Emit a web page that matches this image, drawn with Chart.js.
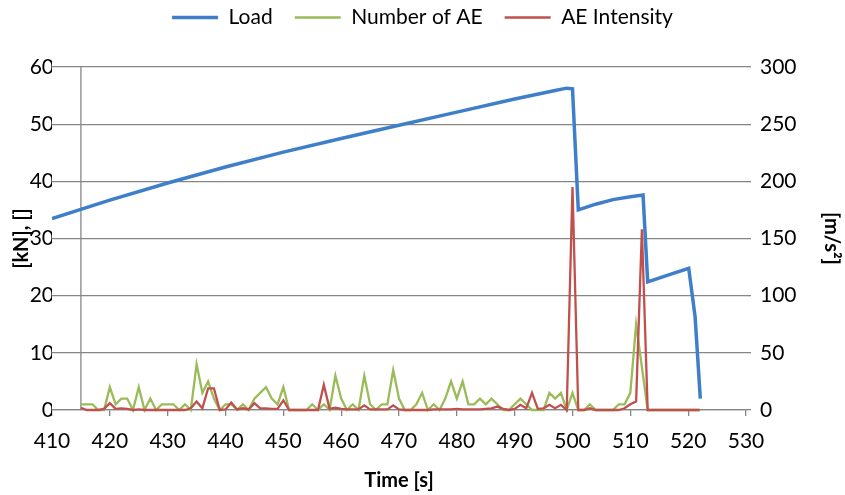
<!DOCTYPE html>
<html>
<head>
<meta charset="utf-8">
<script src="https://cdn.jsdelivr.net/npm/chart.js@4.4.0/dist/chart.umd.min.js"></script>
<style>
  html, body { margin: 0; padding: 0; background: #fff; }
  #wrap { width: 845px; height: 495px; }
</style>
</head>
<body>
<div id="wrap"><canvas id="chart"></canvas></div>
<script>
// Load [kN] against time [s]
const loadTime = [410, 420, 430, 440, 450, 460, 470, 480, 490, 497, 499, 500, 501, 504, 507, 510, 512.2, 513, 516.5, 520.1, 521.2, 522.1];
const loadValue = [33.5, 36.7, 39.7, 42.5, 45.1, 47.5, 49.8, 52.1, 54.4, 55.9, 56.3, 56.2, 35.0, 36.0, 36.8, 37.3, 37.6, 22.4, 23.6, 24.8, 16.3, 2.0];

// AE readings, one per second from 415 s
const aeStart = 415;
const aeNumber = [
  1, 1, 1, 0, 0, 4, 1, 2, 2, 0,   // 415-424
  4, 0, 2, 0, 1, 1, 1, 0, 1, 0,   // 425-434
  8, 3, 5, 2, 0, 1, 1, 0, 1, 0,   // 435-444
  2, 3, 4, 2, 1, 4, 0, 0, 0, 0,   // 445-454
  1, 0, 1, 0, 6, 2, 0, 1, 0, 6,   // 455-464
  1, 0, 1, 1, 7, 2, 0, 0, 1, 3,   // 465-474
  0, 1, 0, 2, 5, 2, 5, 1, 1, 2,   // 475-484
  1, 2, 1, 0, 0, 1, 2, 1, 0, 0,   // 485-494
  0, 3, 2, 3, 0, 3, 0, 0, 1, 0,   // 495-504
  0, 0, 0, 1, 1, 3, 15, 7.5, 0, 0, // 505-514
  0, 0, 0, 0, 0, 0, 0, 0          // 515-522
];
// AE intensity [m/s2]
const aeIntensity = [
  2, 0, 0, 0, 1, 6, 1, 1.5, 1, 0,
  0.5, 0, 0, 0, 0, 0, 0, 0, 0, 1.5,
  7.5, 1.5, 19, 19, 0, 0.5, 6.5, 0.5, 1.5, 0.5,
  6, 1.5, 1.5, 1, 1, 8.5, 0, 0, 0, 0,
  0, 0, 22, 1, 2, 1, 0.5, 0.5, 0.5, 4,
  0.5, 0.5, 0.5, 0.5, 4, 0.5, 0, 0, 0, 0,
  0, 0.5, 0.5, 0.5, 0.5, 1, 0.5, 0.5, 0.5, 0.5,
  1, 1.5, 3, 1, 0, 1, 4.5, 1.5, 15, 1,
  1.5, 4.5, 1.5, 4.5, 0, 195, 0, 0, 1.5, 0,
  0, 0, 0, 0, 1.5, 5, 7.5, 158, 0, 0,
  0, 0, 0, 0, 0, 0, 0, 0
];
const aeTime = aeNumber.map((_, i) => aeStart + i);

const gridGrey = "#868686";
const fontName = "Lato, 'Open Sans', sans-serif";

function points(xs, ys) {
  return xs.map((x, i) => ({ x: x, y: ys[i] }));
}

// legend box is made tall so the plot starts where the picture's does
const legendFit = {
  id: "legendFit",
  beforeLayout(chart) {
    const legend = chart.legend;
    if (!legend || legend._fitPatched) return;
    const fit = legend.fit;
    legend.fit = function () {
      fit.call(this);
      this.height = 82;
    };
    legend._fitPatched = true;
  }
};

// vertical value axis crosses the time axis at 415 s
const axisCross = {
  id: "axisCross",
  beforeDatasetsDraw(chart) {
    const x = chart.scales.x.getPixelForValue(415);
    const area = chart.chartArea;
    const ctx = chart.ctx;
    ctx.save();
    ctx.strokeStyle = gridGrey;
    ctx.lineWidth = 1.3;
    ctx.beginPath();
    ctx.moveTo(x, area.top);
    ctx.lineTo(x, area.bottom);
    ctx.stroke();
    ctx.restore();
  }
};

const context = document.getElementById("chart").getContext("2d");
const chart = new Chart(context, {
  type: "scatter",
  data: {
    datasets: [
      {
        label: "Load",
        data: points(loadTime, loadValue),
        showLine: true,
        borderColor: "#3f7fc9",
        backgroundColor: "#3f7fc9",
        borderWidth: 3.5,
        pointRadius: 0,
        yAxisID: "y",
        order: 3
      },
      {
        label: "Number of AE",
        data: points(aeTime, aeNumber),
        showLine: true,
        borderColor: "#9bbb59",
        backgroundColor: "#9bbb59",
        borderWidth: 2.3,
        pointRadius: 0,
        clip: 4,
        yAxisID: "y",
        order: 2
      },
      {
        label: "AE Intensity",
        data: points(aeTime, aeIntensity),
        showLine: true,
        borderColor: "#c0504d",
        backgroundColor: "#c0504d",
        borderWidth: 2.3,
        pointRadius: 0,
        clip: 4,
        yAxisID: "y2",
        order: 1
      }
    ]
  },
  options: {
    responsive: true,
    maintainAspectRatio: false,
    animation: false,
    devicePixelRatio: 1,
    layout: { padding: { top: -15, left: 0, right: 0, bottom: 0 } },
    plugins: {
      legend: {
        position: "top",
        labels: {
          usePointStyle: true,
          pointStyle: "line",
          pointStyleWidth: 46,
          padding: 22,
          color: "#000",
          font: { family: fontName, size: 21 },
          sort: (a, b) => a.datasetIndex - b.datasetIndex
        }
      },
      tooltip: { enabled: false }
    },
    scales: {
      x: {
        type: "linear",
        min: 410,
        max: 530,
        ticks: { stepSize: 10, color: "#000", padding: 13, font: { family: fontName, size: 21 } },
        grid: { drawOnChartArea: false, drawTicks: true, tickLength: 6, color: gridGrey, lineWidth: 1.3 },
        border: { color: gridGrey, width: 1.3 },
        title: {
          display: true,
          text: "Time [s]",
          color: "#000",
          font: { family: fontName, size: 20, weight: "bold" },
          padding: { top: 0, bottom: 2 }
        },
        afterFit(scale) { scale.height = 85; }
      },
      y: {
        position: "left",
        min: 0,
        max: 60,
        ticks: { stepSize: 10, color: "#000", padding: -2, font: { family: fontName, size: 21 } },
        grid: { color: gridGrey, lineWidth: 1.3, drawTicks: false },
        border: { display: false },
        title: {
          display: true,
          text: "[kN], []",
          color: "#000",
          font: { family: fontName, size: 20, weight: "bold" },
          padding: { top: 10, bottom: 0 }
        },
        afterFit(scale) { scale.width = 52; }
      },
      y2: {
        position: "right",
        min: 0,
        max: 300,
        ticks: { stepSize: 50, color: "#000", padding: 9, font: { family: fontName, size: 21 } },
        grid: { drawOnChartArea: false, drawTicks: true, tickLength: 5, color: gridGrey, lineWidth: 1.3 },
        border: { display: false },
        title: {
          display: true,
          text: "[m/s²]",
          color: "#000",
          font: { family: fontName, size: 20, weight: "bold" },
          padding: { top: 2, bottom: 0 }
        },
        afterFit(scale) { scale.width = 99; }
      }
    }
  },
  plugins: [legendFit, axisCross]
});
</script>
</body>
</html>
